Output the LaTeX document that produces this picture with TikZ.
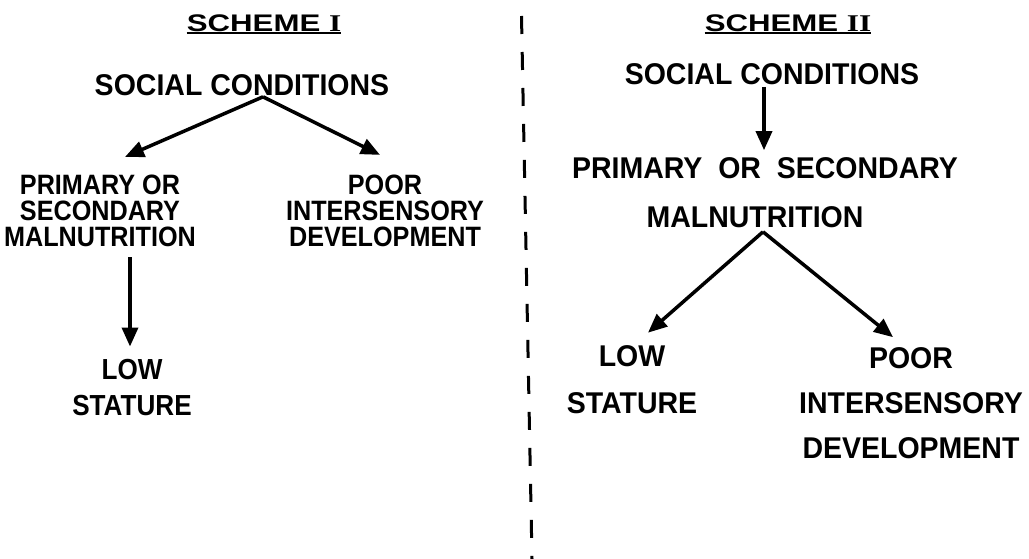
\documentclass[tikz,border=0pt]{standalone}
\usepackage{fontspec}
\usetikzlibrary{arrows.meta}
\setmainfont{Liberation Sans}
\newfontfamily\lblfont[FakeStretch=0.95]{Liberation Sans}
\newfontfamily\narrowfont[FakeStretch=0.9]{Liberation Sans}
\newfontfamily\titlefont[FakeStretch=1.3]{Liberation Sans}
\newfontfamily\romanfont[FakeStretch=1.3]{Liberation Serif}

\begin{document}
\begin{tikzpicture}[x=1pt,y=-1pt,
  lbl/.style={inner sep=0pt,align=center,font=\lblfont\bfseries\fontsize{30}{47}\selectfont},
  lbltight/.style={inner sep=0pt,align=center,font=\narrowfont\bfseries\fontsize{28}{26}\selectfont},
  lblnarrow/.style={inner sep=0pt,align=center,font=\narrowfont\bfseries\fontsize{29}{36}\selectfont},
  ttl/.style={inner sep=0pt,font=\titlefont\bfseries\fontsize{24}{28}\selectfont},
  arr/.style={line width=3.5pt,-{Triangle[length=19pt,width=16pt]}},
  divider/.style={line width=3pt,dash pattern=on 18pt off 18pt}]
  \useasboundingbox (0,0) rectangle (1029,559);
  % scheme I
  \node[ttl] (t1) at (264,23) {SCHEME\ {\romanfont\bfseries I}};
  \draw[line width=2.5pt] ([yshift=-10pt]t1.west) -- ([yshift=-10pt]t1.east);
  \node[lbl] (sc1) at (242,85) {SOCIAL CONDITIONS};
  \node[lbltight] (pm1) at (100,211) {PRIMARY OR\\SECONDARY\\MALNUTRITION};
  \node[lbltight] (pd1) at (385,211) {POOR\\INTERSENSORY\\DEVELOPMENT};
  \node[lblnarrow] (ls1) at (132,388) {LOW\\STATURE};
  \draw[arr] ([xshift=21pt,yshift=-1pt]sc1.south) -- ([xshift=25pt,yshift=18pt]pm1.north);
  \draw[arr] ([xshift=21pt,yshift=-1pt]sc1.south) -- ([xshift=-5pt,yshift=20pt]pd1.north);
  \draw[arr] ([xshift=30pt,yshift=-10pt]pm1.south) -- ([xshift=-2pt,yshift=13pt]ls1.north);
  % divider
  \coordinate (dtop) at (521.5,16);
  \coordinate (dbot) at (532,559);
  \draw[divider] (dtop) -- (dbot);
  % scheme II
  \node[ttl] (t2) at (788,23) {SCHEME\ {\romanfont\bfseries II}};
  \draw[line width=2.5pt] ([yshift=-10pt]t2.west) -- ([yshift=-10pt]t2.east);
  \node[lbl] (sc2) at (772,74) {SOCIAL CONDITIONS};
  \node[lbl] (ps2) at (765,168) {PRIMARY\ \ OR\ \ SECONDARY};
  \node[lbl] (mn2) at (755,217) {MALNUTRITION};
  \node[lbl] (ls2) at (632,380) {LOW\\STATURE};
  \node[lbl,font=\lblfont\bfseries\fontsize{30}{45}\selectfont] (pd2) at (911,403) {POOR\\INTERSENSORY\\DEVELOPMENT};
  \draw[arr] ([xshift=-8pt,yshift=-2pt]sc2.south) -- ([xshift=-1pt,yshift=7pt]ps2.north);
  \draw[arr] ([xshift=8pt,yshift=-4pt]mn2.south) -- ([xshift=16pt,yshift=13pt]ls2.north);
  \draw[arr] ([xshift=8pt,yshift=-4pt]mn2.south) -- ([xshift=-18pt,yshift=10pt]pd2.north);
\end{tikzpicture}
\end{document}
